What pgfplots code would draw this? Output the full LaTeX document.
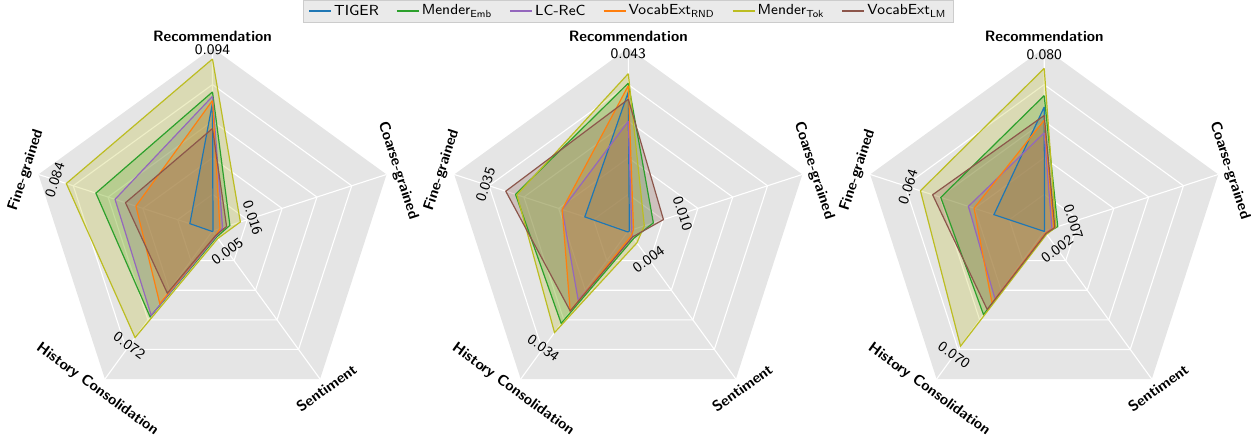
\documentclass[border=0pt]{standalone}
\usepackage{pgfplots}
\usepackage{pgfplotstable}
\pgfplotsset{compat=1.18}
\usetikzlibrary{calc}
\definecolor{cTIGER}{HTML}{1F77B4}
\definecolor{cEmb}{HTML}{2CA02C}
\definecolor{cLC}{HTML}{9467BD}
\definecolor{cRND}{HTML}{FF7F0E}
\definecolor{cTok}{HTML}{BCBD22}
\definecolor{cLM}{HTML}{8C564B}
\definecolor{bggray}{HTML}{E5E5E5}
\definecolor{legfill}{HTML}{EAEAEA}
\definecolor{legframe}{HTML}{CCCCCC}

% angles: Recommendation 90, Coarse-grained 18, Sentiment -54, History Consolidation -126, Fine-grained 162 (first row repeated to close)
\pgfplotstableread{
angle TIGER   Emb     LC      RND     Tok     LM
90    0.070   0.076   0.0736  0.0713  0.094   0.056
18    0.0003  0.010   0.0058  0.0043  0.016   0.0081
-54   0.0002  0.004   0.0035  0.003   0.005   0.003
-126  0.0003  0.058   0.057   0.049   0.072   0.042
162   0.013   0.067   0.056   0.044   0.084   0.050
90    0.070   0.076   0.0736  0.0713  0.094   0.056
}\panelA
\pgfplotstableread{
angle TIGER   Emb     LC      RND     Tok     LM
90    0.038   0.0404  0.030   0.0397  0.043   0.036
18    0.0003  0.0072  0.001   0.0015  0.0046  0.0101
-54   0.0002  0.0025  0.002   0.0015  0.004   0.002
-126  0.0003  0.0312  0.0233  0.027   0.0343  0.027
162   0.0125  0.0324  0.019   0.019   0.032   0.0352
90    0.038   0.0404  0.030   0.0397  0.043   0.036
}\panelB
\pgfplotstableread{
angle TIGER   Emb     LC      RND     Tok     LM
90    0.061   0.0666  0.0483  0.0545  0.080   0.0568
18    0.0002  0.007   0.004   0.005   0.006   0.0055
-54   0.0001  0.0015  0.0012  0.0012  0.002   0.0015
-126  0.0002  0.0508  0.0412  0.0437  0.070   0.0477
162   0.026   0.0535  0.0392  0.0363  0.064   0.0577
90    0.061   0.0666  0.0483  0.0545  0.080   0.0568
}\panelC

\tikzset{
  vlabel/.style={font=\fontsize{7.3}{8}\selectfont\sffamily, inner sep=0pt, anchor=center},
  tlabel/.style={font=\fontsize{7.5}{8}\selectfont\sffamily\bfseries, inner sep=0pt, anchor=center},
}
\pgfplotsset{
  radar/.style={hide axis, clip=false, anchor=center},
  sfill/.style={data cs=polar, draw=none, fill=#1, fill opacity=0.25, forget plot},
  sline/.style={data cs=polar, draw=#1, line width=0.6pt, forget plot},
  gridl/.style={data cs=polar, draw=white, line width=0.55pt, forget plot},
}
% value label: angle, value, offset, rotation, text
\newcommand{\vlab}[5]{\node[vlabel, rotate=#4] at ($(axis cs:{#2*cos(#1)},{#2*sin(#1)})+(#1:#3)$) {#5};}
% title label: angle, distance, rotation, text
\newcommand{\ttl}[4]{\node[tlabel, rotate=#3] at ($(axis cs:0,0)+(#1:#2)$) {#4};}
\newcommand{\titles}{%
  \ttl{90}{97.5pt}{0}{Recommendation}
  \ttl{18}{97.5pt}{-72}{Coarse-grained}
  \ttl{-54}{97pt}{36}{Sentiment}
  \ttl{-126}{98pt}{-36}{History Consolidation}
  \ttl{162}{98pt}{72}{Fine-grained}
}
\newcommand{\drawseries}[1]{%
  \addplot[sfill=cTIGER] table[x=angle, y=TIGER] {#1};
  \addplot[sfill=cEmb]   table[x=angle, y=Emb]   {#1};
  \addplot[sfill=cLC]    table[x=angle, y=LC]    {#1};
  \addplot[sfill=cRND]   table[x=angle, y=RND]   {#1};
  \addplot[sfill=cTok]   table[x=angle, y=Tok]   {#1};
  \addplot[sfill=cLM]    table[x=angle, y=LM]    {#1};
  \addplot[sline=cTIGER] table[x=angle, y=TIGER] {#1};
  \addplot[sline=cEmb]   table[x=angle, y=Emb]   {#1};
  \addplot[sline=cLC]    table[x=angle, y=LC]    {#1};
  \addplot[sline=cRND]   table[x=angle, y=RND]   {#1};
  \addplot[sline=cTok]   table[x=angle, y=Tok]   {#1};
  \addplot[sline=cLM]    table[x=angle, y=LM]    {#1};
}
\begin{document}
\begin{tikzpicture}
\path (0,0) rectangle (626.5pt,217pt);

% ---------------- Panel 1 ----------------
\begin{axis}[radar, at={(106.25pt,101.5pt)}, x=915pt, y=915pt,
  xmin=-0.1, xmax=0.1, ymin=-0.1, ymax=0.1]
\addplot[data cs=polar, fill=bggray, draw=none, forget plot] coordinates {(90,0.1) (18,0.1) (-54,0.1) (-126,0.1) (162,0.1) (90,0.1)};
\addplot[gridl] coordinates {(90,0.02) (18,0.02) (-54,0.02) (-126,0.02) (162,0.02) (90,0.02)};
\addplot[gridl] coordinates {(90,0.04) (18,0.04) (-54,0.04) (-126,0.04) (162,0.04) (90,0.04)};
\addplot[gridl] coordinates {(90,0.06) (18,0.06) (-54,0.06) (-126,0.06) (162,0.06) (90,0.06)};
\addplot[gridl] coordinates {(90,0.08) (18,0.08) (-54,0.08) (-126,0.08) (162,0.08) (90,0.08)};
\addplot[gridl] coordinates {(90,0.1) (0,0) (18,0.1) (0,0) (-54,0.1) (0,0) (-126,0.1) (0,0) (162,0.1)};
\drawseries{\panelA}
\vlab{90}{0.094}{4.75pt}{0}{0.094}
\vlab{18}{0.016}{6.5pt}{-72}{0.016}
\vlab{-54}{0.005}{8pt}{36}{0.005}
\vlab{-126}{0.072}{4.85pt}{-36}{0.072}
\vlab{162}{0.084}{6pt}{72}{0.084}
\titles
\end{axis}

% ---------------- Panel 2 ----------------
\begin{axis}[radar, at={(314.15pt,101.5pt)}, x=1830pt, y=1830pt,
  xmin=-0.05, xmax=0.05, ymin=-0.05, ymax=0.05,
  legend style={at={(axis description cs:0.5,1.1)}, anchor=center,
    font=\fontsize{7.3}{8}\selectfont\sffamily, draw=legframe, fill=legfill,
    legend columns=6, inner xsep=2.5pt, inner ysep=1pt,
    nodes={inner sep=1pt},
    /tikz/every even column/.append style={column sep=7.5pt}},
  legend image code/.code={\draw[#1] (0pt,0pt) -- (11pt,0pt);}]
\addlegendimage{color=cTIGER, line width=1pt}\addlegendentry{TIGER}
\addlegendimage{color=cEmb, line width=1pt}\addlegendentry{Mender\textsubscript{Emb}}
\addlegendimage{color=cLC, line width=1pt}\addlegendentry{LC-ReC}
\addlegendimage{color=cRND, line width=1pt}\addlegendentry{VocabExt\textsubscript{RND}}
\addlegendimage{color=cTok, line width=1pt}\addlegendentry{Mender\textsubscript{Tok}}
\addlegendimage{color=cLM, line width=1pt}\addlegendentry{VocabExt\textsubscript{LM}}
\addplot[data cs=polar, fill=bggray, draw=none, forget plot] coordinates {(90,0.05) (18,0.05) (-54,0.05) (-126,0.05) (162,0.05) (90,0.05)};
\addplot[gridl] coordinates {(90,0.01) (18,0.01) (-54,0.01) (-126,0.01) (162,0.01) (90,0.01)};
\addplot[gridl] coordinates {(90,0.02) (18,0.02) (-54,0.02) (-126,0.02) (162,0.02) (90,0.02)};
\addplot[gridl] coordinates {(90,0.03) (18,0.03) (-54,0.03) (-126,0.03) (162,0.03) (90,0.03)};
\addplot[gridl] coordinates {(90,0.04) (18,0.04) (-54,0.04) (-126,0.04) (162,0.04) (90,0.04)};
\addplot[gridl] coordinates {(90,0.05) (0,0) (18,0.05) (0,0) (-54,0.05) (0,0) (-126,0.05) (0,0) (162,0.05)};
\drawseries{\panelB}
\vlab{90}{0.043}{10pt}{0}{0.043}
\vlab{18}{0.010}{10.3pt}{-72}{0.010}
\vlab{-54}{0.004}{10pt}{36}{0.004}
\vlab{-126}{0.034}{10pt}{-36}{0.034}
\vlab{162}{0.035}{11pt}{72}{0.035}
\titles
\end{axis}

% ---------------- Panel 3 ----------------
\begin{axis}[radar, at={(522.1pt,101.5pt)}, x=1016.67pt, y=1016.67pt,
  xmin=-0.09, xmax=0.09, ymin=-0.09, ymax=0.09]
\addplot[data cs=polar, fill=bggray, draw=none, forget plot] coordinates {(90,0.09) (18,0.09) (-54,0.09) (-126,0.09) (162,0.09) (90,0.09)};
\addplot[gridl] coordinates {(90,0.018) (18,0.018) (-54,0.018) (-126,0.018) (162,0.018) (90,0.018)};
\addplot[gridl] coordinates {(90,0.036) (18,0.036) (-54,0.036) (-126,0.036) (162,0.036) (90,0.036)};
\addplot[gridl] coordinates {(90,0.054) (18,0.054) (-54,0.054) (-126,0.054) (162,0.054) (90,0.054)};
\addplot[gridl] coordinates {(90,0.072) (18,0.072) (-54,0.072) (-126,0.072) (162,0.072) (90,0.072)};
\addplot[gridl] coordinates {(90,0.09) (0,0) (18,0.09) (0,0) (-54,0.09) (0,0) (-126,0.09) (0,0) (162,0.09)};
\drawseries{\panelC}
\vlab{90}{0.080}{7pt}{0}{0.080}
\vlab{18}{0.007}{8.25pt}{-72}{0.007}
\vlab{-54}{0.002}{9pt}{36}{0.002}
\vlab{-126}{0.070}{5.5pt}{-36}{0.070}
\vlab{162}{0.064}{6.5pt}{72}{0.064}
\titles
\end{axis}
\end{tikzpicture}
\end{document}
